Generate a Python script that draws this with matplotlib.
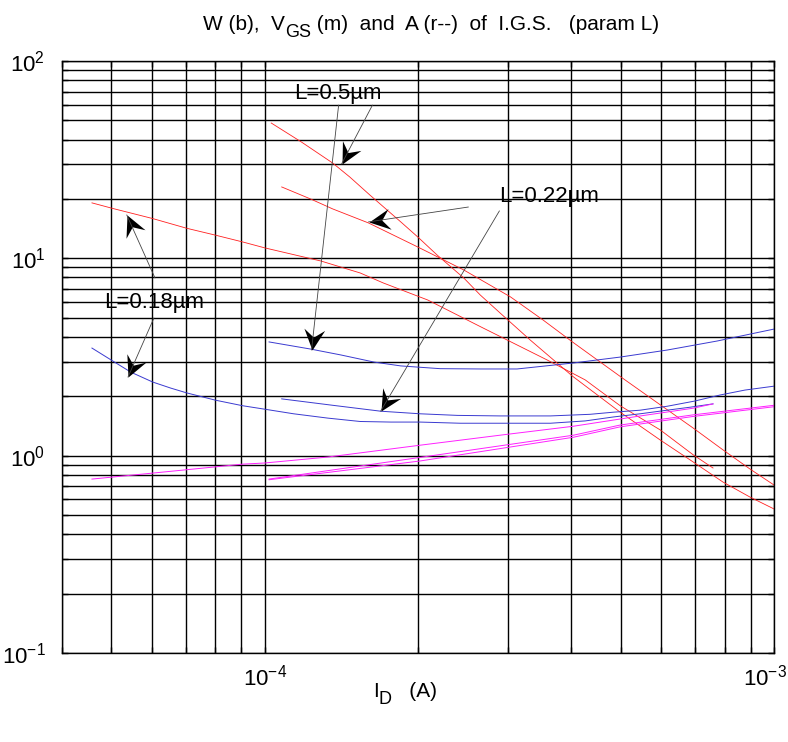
import numpy as np
import matplotlib
matplotlib.use('Agg')
import matplotlib.pyplot as plt
from matplotlib import font_manager
from matplotlib.markers import MarkerStyle
from matplotlib.path import Path
from matplotlib.transforms import Affine2D, ScaledTranslation

_names = {f.name for f in font_manager.fontManager.ttflist}
FONT = 'Liberation Sans Narrow' if 'Liberation Sans Narrow' in _names else 'Liberation Sans'
plt.rcParams['font.family'] = [FONT, 'DejaVu Sans']
plt.rcParams['mathtext.fontset'] = 'custom'
plt.rcParams['mathtext.rm'] = FONT
plt.rcParams['mathtext.it'] = FONT
plt.rcParams['mathtext.bf'] = FONT
plt.rcParams['mathtext.sf'] = FONT
plt.rcParams['mathtext.default'] = 'regular'

# ---------------- data ----------------
# A (red), L = 0.18 um
x_A018 = [4.58e-5, 5.03e-5, 6.03e-5, 7.03e-5, 8.01e-5, 9.06e-5, 1.0e-4, 1.29e-4, 1.54e-4,
          1.71e-4, 2.09e-4, 2.65e-4, 3.59e-4, 4.26e-4, 4.99e-4, 5.98e-4, 6.94e-4, 7.59e-4]
y_A018 = [19.1, 17.9, 15.9, 14.2, 13.1, 12.1, 11.3, 9.69, 8.43,
          7.5, 6.15, 4.51, 3.05, 2.42, 1.79, 1.35, 1.01, 0.866]
# A (red), L = 0.22 um
x_A022 = [1.08e-4, 1.23e-4, 1.36e-4, 1.60e-4, 2.0e-4, 2.46e-4, 3.04e-4, 3.52e-4, 4.02e-4,
          4.56e-4, 5.10e-4, 5.98e-4, 6.94e-4, 7.94e-4, 8.97e-4, 1.0e-3]
y_A022 = [23.0, 20.0, 17.8, 15.1, 11.4, 8.73, 6.37, 4.87, 3.77,
          2.98, 2.42, 1.81, 1.38, 1.07, 0.856, 0.71]
# A (red), L = 0.5 um
x_A05 = [1.03e-4, 1.18e-4, 1.36e-4, 1.47e-4, 1.61e-4, 1.85e-4, 2.0e-4, 2.18e-4, 2.46e-4,
         2.65e-4, 2.90e-4, 3.32e-4, 4.02e-4, 4.99e-4, 5.98e-4, 6.94e-4, 7.94e-4, 8.97e-4, 1.0e-3]
y_A05 = [48.5, 38.9, 30.4, 25.8, 20.9, 15.3, 12.8, 10.4, 7.95,
         6.52, 5.28, 3.86, 2.53, 1.66, 1.20, 0.929, 0.735, 0.617, 0.537]

# W (blue)
x_W018 = [4.58e-5, 5.03e-5, 5.46e-5, 6.03e-5, 6.54e-5, 7.03e-5, 8.01e-5, 9.06e-5, 1.0e-4,
          1.14e-4, 1.33e-4, 1.54e-4, 1.77e-4, 2.02e-4, 2.42e-4, 2.90e-4, 3.64e-4, 4.26e-4,
          4.83e-4, 5.46e-4, 6.17e-4, 6.84e-4, 7.59e-4]
y_W018 = [3.51, 3.02, 2.65, 2.36, 2.20, 2.08, 1.91, 1.79, 1.72,
          1.63, 1.55, 1.49, 1.48, 1.48, 1.46, 1.46, 1.46, 1.50,
          1.57, 1.63, 1.70, 1.76, 1.83]
x_W022 = [1.08e-4, 1.36e-4, 1.69e-4, 2.02e-4, 2.39e-4, 2.90e-4, 3.64e-4, 4.35e-4, 4.83e-4,
          5.46e-4, 6.17e-4, 6.98e-4, 7.84e-4, 8.77e-4, 1.0e-3]
y_W022 = [1.94, 1.80, 1.68, 1.63, 1.60, 1.59, 1.59, 1.62, 1.66,
          1.70, 1.78, 1.89, 2.03, 2.15, 2.25]
x_W05 = [1.02e-4, 1.23e-4, 1.41e-4, 1.64e-4, 1.85e-4, 2.21e-4, 2.65e-4, 3.13e-4, 4.04e-4,
         4.99e-4, 6.17e-4, 7.73e-4, 1.0e-3]
y_W05 = [3.77, 3.47, 3.24, 2.98, 2.85, 2.76, 2.75, 2.75, 2.95,
         3.16, 3.43, 3.81, 4.38]

# VGS (magenta)
x_V018 = [4.58e-5, 6.03e-5, 9.06e-5, 1.0e-4, 1.33e-4, 2.02e-4, 2.90e-4, 4.04e-4,
          5.29e-4, 6.94e-4, 7.59e-4]
y_V018 = [0.761, 0.816, 0.906, 0.918, 0.984, 1.13, 1.27, 1.41, 1.57, 1.74, 1.83]
x_V022 = [1.02e-4, 2.02e-4, 4.04e-4, 4.99e-4, 6.94e-4, 1.0e-3]
y_V022 = [0.761, 0.98, 1.27, 1.43, 1.61, 1.80]
x_V05 = [1.02e-4, 2.02e-4, 4.04e-4, 4.99e-4, 6.94e-4, 1.0e-3]
y_V05 = [0.755, 0.94, 1.24, 1.40, 1.58, 1.77]

# annotations: label text, label position, arrow starts and tips
labels = ['L=0.5\u00b5m', 'L=0.22\u00b5m', 'L=0.18\u00b5m']
label_x = [1.39e-4, 3.62e-4, 6.08e-5]
label_y = [68.8, 20.5, 5.94]
arrow_x0 = [1.628e-4, 1.397e-4, 2.512e-4, 2.89e-4, 6.09e-5, 6.06e-5]
arrow_y0 = [59.8, 59.8, 18.2, 17.4, 7.95, 4.98]
arrow_x1 = [1.416e-4, 1.236e-4, 1.599e-4, 1.689e-4, 5.36e-5, 5.39e-5]
arrow_y1 = [30.1, 3.43, 15.3, 1.68, 16.6, 2.50]

xticks = [1e-4, 1e-3]
xticklabels = [r'$10^{-4}$', r'$10^{-3}$']
yticks = [1e-1, 1e0, 1e1, 1e2]
yticklabels = [r'$10^{-1}$', r'$10^{0}$', r'$10^{1}$', r'$10^{2}$']

# title and x label as (text, lowered?) pieces
title_parts = [('W (b),  V', False), ('GS', True), (' (m)  and  A (r--)  of  I.G.S.   (param L)', False)]
xlabel_parts = [('I', False), ('D', True), ('   (A)', False)]

# ---------------- figure ----------------
W, H = 788, 742
fig = plt.figure(figsize=(W / 100, H / 100), dpi=100)
ax = fig.add_axes([62 / W, 1 - 653 / H, (774 - 62) / W, (653 - 61) / H])
ax.set_xscale('log')
ax.set_yscale('log')
ax.set_xlim(4e-5, 1e-3)
ax.set_ylim(0.1, 100)

ax.grid(True, which='both', color='black', linestyle='-', linewidth=1.0)
ax.set_axisbelow(True)

red = '#ff2020'
blue = '#3a3ad0'
mag = '#ff20ff'
for xs, ys in [(x_A018, y_A018), (x_A022, y_A022), (x_A05, y_A05)]:
    ax.plot(xs, ys, color=red, lw=0.6)
for xs, ys in [(x_W018, y_W018), (x_W022, y_W022), (x_W05, y_W05)]:
    ax.plot(xs, ys, color=blue, lw=0.7)
for xs, ys in [(x_V018, y_V018), (x_V022, y_V022), (x_V05, y_V05)]:
    ax.plot(xs, ys, color=mag, lw=0.7)

ax.set_xticks(xticks)
ax.set_xticklabels(xticklabels)
ax.set_yticks(yticks)
ax.set_yticklabels(yticklabels)
ax.tick_params(which='both', direction='in', top=True, right=True,
               length=4, width=1.0, labelsize=16)
ax.tick_params(axis='x', which='major', pad=8)
ax.tick_params(axis='y', which='major', pad=12)
for s in ax.spines.values():
    s.set_linewidth(1.0)

# arrows
fig.canvas.draw()
renderer = fig.canvas.get_renderer()
head = Path([(0, 0), (-1, 0.5), (-0.62, 0), (-1, -0.5), (0, 0)],
            [Path.MOVETO, Path.LINETO, Path.LINETO, Path.LINETO, Path.CLOSEPOLY])
for x0, y0, x1, y1 in zip(arrow_x0, arrow_y0, arrow_x1, arrow_y1):
    ax.annotate('', xy=(x1, y1), xytext=(x0, y0),
                arrowprops=dict(arrowstyle='-', color='#444444', lw=0.6,
                                shrinkA=0, shrinkB=0))
    p0 = ax.transData.transform((x0, y0))
    p1 = ax.transData.transform((x1, y1))
    ang = np.degrees(np.arctan2(p1[1] - p0[1], p1[0] - p0[0]))
    m = MarkerStyle(head, transform=Affine2D().rotate_deg(ang))
    ax.plot([x1], [y1], marker=m, markersize=30, color='black', mec='black', mew=0)

for t, lx, ly in zip(labels, label_x, label_y):
    ax.text(lx, ly, t, ha='center', va='center', fontsize=16)


def draw_parts(parts, cx, base_y, size, sub_size, sub_drop):
    """Draw text pieces left to right, centred on cx (pixels), with lowered subscripts."""
    arts = []
    for t, low in parts:
        a = fig.text(0, 0, t, fontsize=sub_size if low else size, ha='left', va='baseline')
        arts.append((a, low))
    widths = [a.get_window_extent(renderer).width for a, _ in arts]
    x = cx - sum(widths) / 2
    for (a, low), w in zip(arts, widths):
        yb = base_y + (sub_drop if low else 0)
        a.set_position((x / W, 1 - yb / H))
        x += w


draw_parts(title_parts, 431, 30, 15, 13, 7)
draw_parts(xlabel_parts, 405, 697, 15, 13, 7)

# keep the right-most x tick label inside the canvas
lab = ax.xaxis.get_major_ticks()[1].label1
lab.set_transform(lab.get_transform() + ScaledTranslation(-9 / 100, 0, fig.dpi_scale_trans))

fig.savefig('out.png', dpi=100)
